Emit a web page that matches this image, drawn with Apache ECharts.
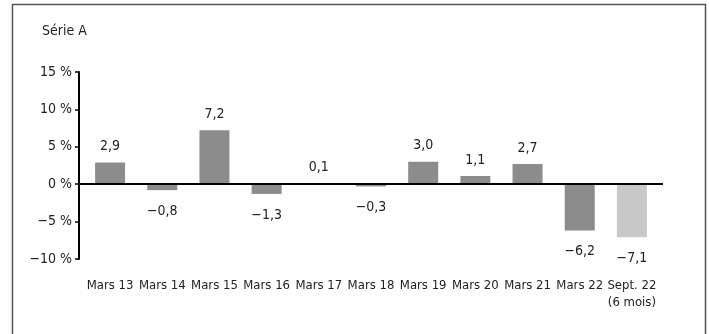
<!DOCTYPE html>
<html><head><meta charset="utf-8">
<style>html,body{margin:0;padding:0;background:#fff}#c{width:709px;height:334px}</style>
<script src="https://cdn.jsdelivr.net/npm/echarts@6/dist/echarts.min.js"></script>
</head><body><div id="c"></div>
<script>
const categories = ['Mars 13','Mars 14','Mars 15','Mars 16','Mars 17','Mars 18','Mars 19','Mars 20','Mars 21','Mars 22','Sept. 22\n(6 mois)'];
const values = [2.9, -0.8, 7.2, -1.3, 0.1, -0.3, 3.0, 1.1, 2.7, -6.2, -7.1];
const highlightIndex = 10;
const seriesName = 'Série A';
const yTicks = [-10, -5, 0, 5, 10, 15];

const FONT = '"Liberation Sans Narrow","DejaVu Sans Condensed",sans-serif';
const fmt = v => (v < 0 ? '\u2212' : '') + Math.abs(v).toFixed(1).replace('.', ',');

const data = values.map((v, i) => ({
  value: v,
  itemStyle: { color: i === highlightIndex ? '#c8c8c8' : '#8c8c8c' },
  label: {
    position: v < 0 ? 'bottom' : 'top',
    distance: v < 0 ? 14 : 9
  }
}));

const chart = echarts.init(document.getElementById('c'));
chart.setOption({
  animation: false,
  textStyle: { fontFamily: FONT },
  graphic: [
    { type: 'rect', shape: { x: 12.5, y: 4.5, width: 693, height: 340 },
      style: { fill: 'none', stroke: '#555', lineWidth: 1.5 } },
    { type: 'text', left: 42, top: 24,
      style: { text: seriesName, font: '14px ' + FONT, fill: '#222' } }
  ],
  grid: { left: 84, right: 51, top: 72, bottom: 75 },
  xAxis: {
    type: 'category',
    data: categories,
    axisLine: { show: false },
    axisTick: { show: false },
    axisLabel: { color: '#222', fontSize: 13, fontFamily: FONT, margin: 18, interval: 0, lineHeight: 17 }
  },
  yAxis: {
    type: 'value',
    min: yTicks[0], max: yTicks[yTicks.length - 1], interval: 5,
    offset: 5,
    splitLine: { show: false },
    axisLine: { show: true, lineStyle: { color: '#000', width: 2 } },
    axisTick: { show: true, length: 4, lineStyle: { color: '#000', width: 1.5 } },
    axisLabel: { color: '#222', fontSize: 14, fontFamily: FONT, margin: 7,
      formatter: v => (v < 0 ? '\u2212' : '') + Math.abs(v) + ' %' }
  },
  series: [{
    type: 'bar',
    name: seriesName,
    data: data,
    barWidth: 30,
    label: { show: true, color: '#222', fontSize: 14, fontFamily: FONT, formatter: p => fmt(p.value) },
    markLine: {
      silent: true, symbol: 'none', label: { show: false },
      lineStyle: { color: '#000', width: 2, type: 'solid' },
      data: [[{ x: 79, yAxis: 0 }, { x: 663, yAxis: 0 }]]
    }
  }]
});
</script></body></html>
